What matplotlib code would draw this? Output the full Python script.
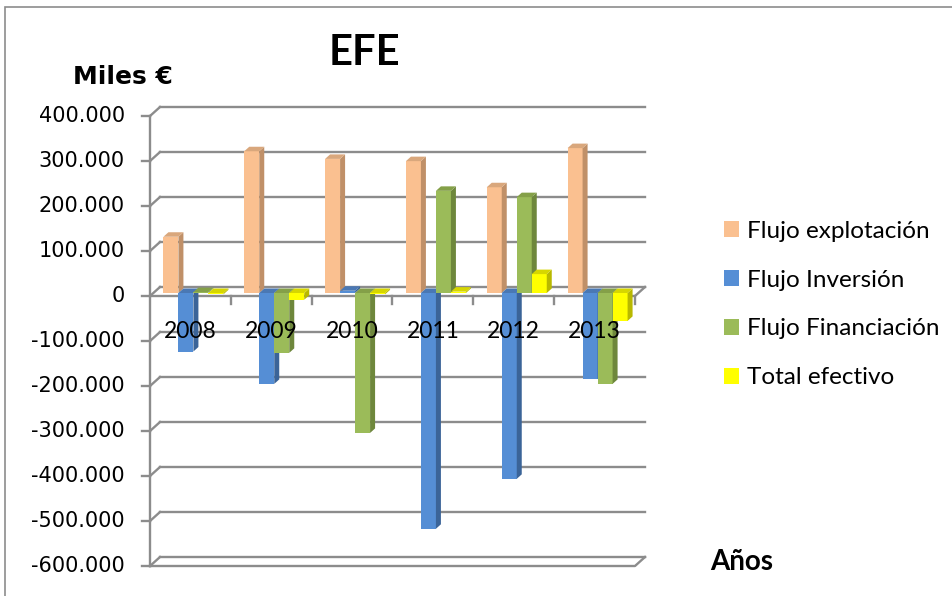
import matplotlib
matplotlib.use("Agg")
import matplotlib.pyplot as plt
from matplotlib.patches import Polygon, Patch, Rectangle

years = ["2008", "2009", "2010", "2011", "2012", "2013"]
series_names = ["Flujo explotación", "Flujo Inversión", "Flujo Financiación", "Total efectivo"]
flujo_explotacion = [125000, 315000, 298000, 293000, 235000, 322000]
flujo_inversion = [-130000, -202000, 5000, -524000, -413000, -191000]
flujo_financiacion = [2000, -133000, -311000, 227000, 213000, -202000]
total_efectivo = [-3000, -15000, -3000, 3000, 42000, -62000]
y_ticks = [400000, 300000, 200000, 100000, 0, -100000, -200000, -300000, -400000, -500000, -600000]

front_colors = ["#FAC090", "#558ED5", "#9BBB59", "#FFFF00"]
side_colors = ["#C09068", "#3B6498", "#6E873C", "#B8B800"]
top_colors = ["#D9A77C", "#4A78B4", "#84A048", "#D6D600"]
grid_color = "#8C8C8C"

W, H = 953, 596
fig = plt.figure(figsize=(W / 100, H / 100), dpi=100)

# back wall of the pseudo-3D chart
ax = fig.add_axes([160 / W, 1 - 557 / H, 485 / W, 450 / H])
ax.set_xlim(-0.5, len(years) - 0.5)
ax.set_ylim(-600000, 400000)
ax.axis("off")

ppx = ax.bbox.width / (len(years))        # pixels per category unit
ppy = ax.bbox.height / 1000000            # pixels per euro
wall_dx, wall_dy = 10 / ppx, 9 / ppy      # front edge offset from the wall
bar_dx, bar_dy = 7 / ppx, 6 / ppy         # bar front face offset
side_dx, side_dy = 5 / ppx, 4.5 / ppy     # bar depth

x_left = -0.5
x_right = len(years) - 0.5
xf_left = x_left - wall_dx

# gridlines on the wall plus the slanted joints to the front axis
for v in y_ticks:
    ax.plot([x_left, x_right], [v, v], color=grid_color, lw=1.7, zorder=1, clip_on=False)
    ax.plot([xf_left, x_left], [v - wall_dy, v], color=grid_color, lw=1.7, zorder=1, clip_on=False)
    ax.plot([xf_left - 8 / ppx, xf_left], [v - wall_dy, v - wall_dy], color=grid_color, lw=1.7, clip_on=False)
    lbl = "0" if v == 0 else f"{v:,}".replace(",", ".")
    ax.text(xf_left - 25 / ppx, v - wall_dy, lbl, ha="right", va="center",
            fontsize=15, family="DejaVu Sans", color="black")

# front value axis
ax.plot([xf_left, xf_left], [-600000 - wall_dy, 400000 - wall_dy], color=grid_color, lw=1.7, clip_on=False)

# floor at zero and floor at the bottom
for base in [0, -600000]:
    ax.plot([xf_left, x_right - wall_dx, x_right], [base - wall_dy, base - wall_dy, base],
            color=grid_color, lw=1.7, zorder=2, clip_on=False)

# category ticks on the zero floor
for i in range(len(years)):
    xt = i + 0.5 - wall_dx
    ax.plot([xt, xt], [-wall_dy, -wall_dy - 8 / ppy], color=grid_color, lw=1.7, zorder=2, clip_on=False)
    ax.text(i - wall_dx, -wall_dy - 35 / ppy, years[i], ha="center", va="center",
            fontsize=16.5, family="Lato", zorder=20)

# clustered columns with side and top faces
all_series = [flujo_explotacion, flujo_inversion, flujo_financiacion, total_efectivo]
w = 15 / ppx
for k, vals in enumerate(all_series):
    xs = [i - 2 * w + k * w - bar_dx for i in range(len(years))]
    ax.bar(xs, vals, width=w, bottom=-bar_dy, align="edge", color=front_colors[k],
           linewidth=0, zorder=3 + k)
    for x0, v in zip(xs, vals):
        base = -bar_dy
        top = v - bar_dy
        side = Polygon([(x0 + w, base), (x0 + w, top), (x0 + w + side_dx, top + side_dy),
                        (x0 + w + side_dx, base + side_dy)], closed=True,
                       facecolor=side_colors[k], linewidth=0, zorder=3 + k)
        ax.add_patch(side)
        yt = max(base, top)
        lid = Polygon([(x0, yt), (x0 + w, yt), (x0 + w + side_dx, yt + side_dy),
                       (x0 + side_dx, yt + side_dy)], closed=True,
                      facecolor=top_colors[k], linewidth=0, zorder=3 + k)
        ax.add_patch(lid)

handles = [Patch(facecolor=c, edgecolor="none") for c in front_colors]
fig.legend(handles, series_names, loc="center left", bbox_to_anchor=(724 / W, 1 - 304.5 / H),
           frameon=False, borderpad=0, borderaxespad=0, handlelength=0.6, handleheight=0.6,
           handletextpad=0.35, labelspacing=1.15, prop={"family": "Lato", "size": 17.5})

fig.text(364 / W, 1 - 53 / H, "EFE", ha="center", va="center", fontsize=30,
         fontweight="bold", family="Lato")
fig.text(123 / W, 1 - 77 / H, "Miles €", ha="center", va="center", fontsize=18,
         fontweight="bold", family="DejaVu Sans")
fig.text(742 / W, 1 - 562 / H, "Años", ha="center", va="center", fontsize=20,
         fontweight="bold", family="Lato")

# outer chart border
fig.patches.append(Rectangle((5 / W, -0.05), 1.2, 1 - 7 / H + 0.05, transform=fig.transFigure,
                             fill=False, edgecolor="#8C8C8C", linewidth=1.2))

fig.savefig("out.png", dpi=100)
